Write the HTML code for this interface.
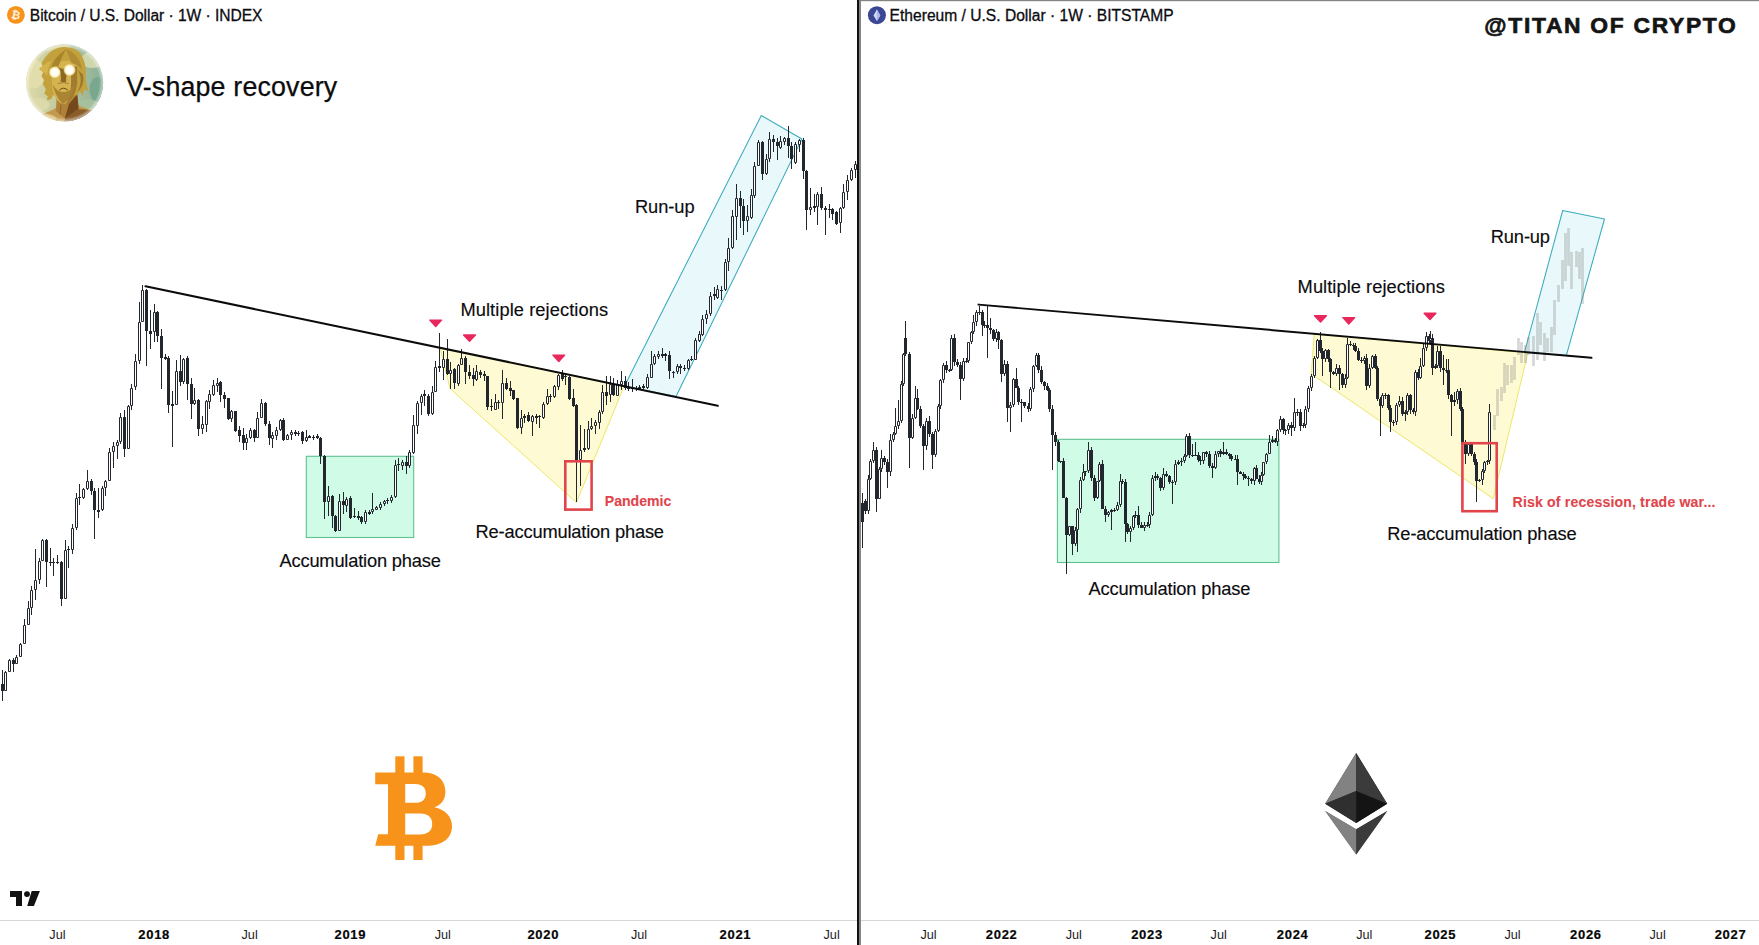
<!DOCTYPE html>
<html lang="en"><head><meta charset="utf-8"><title>V-shape recovery - BTC vs ETH</title>
<style>
html,body{margin:0;padding:0;background:#fff;}
body{width:1759px;height:945px;overflow:hidden;position:relative;font-family:"Liberation Sans",sans-serif;}
svg{position:absolute;left:0;top:0;display:block}
text{font-family:"Liberation Sans",sans-serif;fill:#0c0c0e;stroke:#0c0c0e;stroke-width:0.25px}
.lbl{font-size:18.3px;stroke-width:0.15px}
.red{fill:#e0454c;stroke:#e0454c;font-weight:bold;font-size:14.1px;stroke-width:0.1px}
.ax{font-size:12.6px;fill:#1c1c1f;stroke:none;text-anchor:middle}
.axb{font-size:13px;font-weight:bold;fill:#050505;stroke:#050505;stroke-width:0.2px;text-anchor:middle}
.hd{font-size:15.6px;fill:#0c0c10;stroke:#0c0c10;stroke-width:0.3px}
</style></head><body>
<svg width="1759" height="945" viewBox="0 0 1759 945">
<rect x="0" y="0" width="1759" height="945" fill="#ffffff"/>
<g id="left-shapes">
<rect x="306.3" y="456.3" width="107.4" height="81.2" fill="#d0fce7" stroke="#60c090" stroke-width="1.1"/>
<polygon points="440,347.6 450,388.5 576.4,502.5 624.2,386" fill="#fefad4" stroke="#ebe76a" stroke-width="1.0" stroke-linejoin="round"/>
<polygon points="624.4,386.3 761.3,115.5 801.9,139 676,396.6" fill="#e9f8fa" stroke="#3cabbd" stroke-width="1.05" stroke-linejoin="round"/>
</g>
<g id="right-shapes">
<rect x="1057.4" y="439.3" width="221.5" height="123.2" fill="#d0fce7" stroke="#60c090" stroke-width="1.1"/>
<polygon points="1314.3,334 1311.3,373.8 1493.2,498.7 1527.8,353" fill="#fefad4" stroke="#ebe76a" stroke-width="1.0" stroke-linejoin="round"/>
<polygon points="1524.5,352.2 1562.7,210.5 1604.5,219 1566.3,355.6" fill="#e9f8fa" stroke="#3cabbd" stroke-width="1.05" stroke-linejoin="round"/>
</g>
<g id="btc-candles" clip-path="url(#clipL)">
<clipPath id="clipL"><rect x="0" y="0" width="857" height="920"/></clipPath>
<path d="M2.5 670V701M5.5 671V691M9.5 659V672M13.5 658V672M16.5 655V664M20.5 643V657M24.5 619V644M28.5 601V625M31.5 586V615M35.5 549V600M39.5 558V584M42.5 539V561M46.5 539V587M50.5 548V566M53.5 558V576M57.5 555V564M61.5 561V606M65.5 540V599M68.5 546V568M72.5 524V554M76.5 493V530M79.5 484V505M83.5 488V499M87.5 470V490M91.5 479V495M94.5 488V539M98.5 488V518M102.5 486V511M105.5 480V496M109.5 448V481M113.5 442V468M117.5 440V459M120.5 413V444M124.5 410V457M128.5 405V449M131.5 384V410M135.5 354V390M139.5 302V364M142.5 285V322M146.5 289V366M150.5 310V349M154.5 304V342M157.5 311V342M161.5 329V389M165.5 354V360M168.5 356V413M172.5 391V447M176.5 360V405M180.5 355V386M183.5 358V384M187.5 356V400M191.5 378V419M194.5 388V405M198.5 399V436M202.5 416V434M206.5 400V432M209.5 390V409M213.5 380V396M217.5 378V392M220.5 381V402M224.5 392V408M228.5 398V420M231.5 410V422M235.5 411V432M239.5 426V442M243.5 428V450M246.5 434V450M250.5 428V439M254.5 429V442M257.5 412V438M261.5 399V418M265.5 402V426M269.5 421V445M272.5 432V448M276.5 427V440M280.5 419V431M283.5 418V441M287.5 434V440M291.5 430V440M295.5 430V436M298.5 431V436M302.5 431V444M306.5 430V442M309.5 435V438M313.5 435V440M317.5 434V439M320.5 437V464M324.5 455V519M328.5 486V516M332.5 495V528M335.5 515V532M339.5 494V531M343.5 492V514M346.5 497V512M350.5 496V519M354.5 508V518M358.5 511V520M361.5 516V524M365.5 510V524M369.5 510V515M372.5 493V514M376.5 506V510M380.5 502V510M384.5 500V506M387.5 498V504M391.5 495V503M395.5 460V498M398.5 458V471M402.5 460V470M406.5 456V474M409.5 450V468M413.5 415V454M417.5 401V434M421.5 394V415M424.5 390V406M428.5 394V416M432.5 386V415M435.5 361V392M439.5 333V372M443.5 351V380M447.5 339V375M450.5 362V389M454.5 368V389M458.5 364V386M461.5 349V365M465.5 356V384M469.5 365V379M473.5 368V386M476.5 365V381M480.5 370V378M484.5 371V381M487.5 376V410M491.5 399V411M495.5 394V410M498.5 400V409M502.5 370V419M506.5 378V390M510.5 381V396M513.5 390V400M517.5 398V429M521.5 410V434M524.5 414V423M528.5 412V422M532.5 415V436M536.5 414V424M539.5 415V428M543.5 402V419M547.5 389V405M550.5 394V402M554.5 385V398M558.5 374V390M562.5 370V381M565.5 374V385M569.5 376V400M573.5 389V407M576.5 404V502M580.5 425V486M584.5 429V452M588.5 421V450M591.5 418V430M595.5 420V434M599.5 410V429M602.5 385V414M606.5 376V405M610.5 376V402M613.5 378V396M617.5 380V396M621.5 371V390M625.5 376V390M628.5 382V391M632.5 379V392M636.5 386V391M639.5 385V390M643.5 384V389M647.5 374V389M651.5 351V378M654.5 354V365M658.5 351V359M662.5 348V358M665.5 353V361M669.5 351V379M673.5 371V378M677.5 364V374M680.5 364V374M684.5 365V371M688.5 359V370M691.5 356V361M695.5 338V360M699.5 331V342M702.5 315V336M706.5 310V324M710.5 292V316M714.5 287V300M717.5 285V299M721.5 286V300M725.5 259V291M728.5 238V271M732.5 210V249M736.5 184V240M740.5 191V228M743.5 199V235M747.5 205V232M751.5 189V219M754.5 162V198M758.5 140V166M762.5 141V180M766.5 154V175M769.5 132V162M773.5 135V152M777.5 138V160M780.5 136V149M784.5 137V145M788.5 126V158M791.5 142V169M795.5 142V164M799.5 139V152M803.5 138V179M806.5 170V230M810.5 188V215M814.5 194V212M817.5 192V225M821.5 187V210M825.5 206V235M829.5 204V218M832.5 208V220M836.5 211V225M840.5 207V233M843.5 184V209M847.5 175V200M851.5 168V181M855.5 161V178" stroke="#22262d" stroke-width="1" fill="none"/>
<path d="M1 684H4V691H1ZM12 660H15V664H12ZM45 540H48V562H45ZM49 562H52V563H49ZM52 562H55V563H52ZM56 562H59V563H56ZM60 562H63V599H60ZM67 549H70V550H67ZM78 497H81V498H78ZM90 481H93V491H90ZM93 491H96V510H93ZM97 510H100V512H97ZM123 417H126V449H123ZM145 290H148V331H145ZM149 331H152V334H149ZM156 312H159V336H156ZM160 336H163V358H160ZM164 357H167V359H164ZM167 358H170V405H167ZM171 404H174V406H171ZM179 371H182V382H179ZM186 358H189V384H186ZM190 384H193V404H190ZM197 400H200V429H197ZM219 382H222V395H219ZM223 395H226V399H223ZM227 398H230V419H227ZM234 411H237V431H234ZM238 430H241V436H238ZM242 435H245V443H242ZM253 430H256V438H253ZM264 403H267V424H264ZM268 424H271V438H268ZM282 420H285V440H282ZM294 432H297V434H294ZM297 433H300V434H297ZM301 432H304V441H301ZM308 436H311V438H308ZM312 437H315V438H312ZM316 436H319V438H316ZM319 438H322V456H319ZM323 456H326V502H323ZM331 496H334V516H331ZM334 516H337V531H334ZM342 501H345V505H342ZM349 498H352V518H349ZM353 516H356V517H353ZM357 516H360V518H357ZM360 517H363V522H360ZM368 512H371V514H368ZM386 500H389V501H386ZM397 464H400V465H397ZM405 462H408V466H405ZM423 394H426V396H423ZM427 396H430V414H427ZM438 366H441V368H438ZM446 359H449V374H446ZM453 369H456V383H453ZM464 358H467V372H464ZM468 372H471V376H468ZM472 375H475V379H472ZM479 372H482V375H479ZM483 374H486V376H483ZM486 376H489V407H486ZM490 406H493V407H490ZM497 402H500V403H497ZM505 383H508V389H505ZM509 388H512V391H509ZM512 390H515V399H512ZM516 398H519V428H516ZM523 416H526V418H523ZM527 415H530V421H527ZM535 416H538V418H535ZM538 416H541V417H538ZM549 396H552V397H549ZM561 374H564V379H561ZM564 376H567V377H564ZM568 377H571V399H568ZM572 398H575V406H572ZM575 405H578V461H575ZM583 448H586V450H583ZM605 392H608V396H605ZM612 384H615V395H612ZM624 381H627V388H624ZM627 388H630V389H627ZM631 388H634V389H631ZM635 388H638V389H635ZM638 387H641V389H638ZM642 386H645V388H642ZM661 354H664V356H661ZM664 354H667V356H664ZM668 355H671V371H668ZM672 372H675V373H672ZM679 366H682V368H679ZM683 368H686V369H683ZM690 359H693V360H690ZM713 294H716V296H713ZM720 290H723V291H720ZM739 198H742V206H739ZM742 206H745V221H742ZM761 142H764V174H761ZM772 139H775V142H772ZM776 142H779V146H776ZM787 138H790V146H787ZM790 146H793V159H790ZM802 140H805V171H802ZM805 171H808V210H805ZM813 206H816V208H813ZM820 194H823V208H820ZM824 208H827V210H824ZM828 209H831V210H828ZM831 209H834V214H831ZM835 212H838V224H835Z" fill="#22262d" stroke="none"/>
<path d="M4.5 672.5H6.5V690.5H4.5ZM8.5 660.5H10.5V671.5H8.5ZM15.5 657.5H17.5V663.5H15.5ZM19.5 644.5H21.5V656.5H19.5ZM23.5 625.5H25.5V643.5H23.5ZM27.5 608.5H29.5V624.5H27.5ZM30.5 590.5H32.5V607.5H30.5ZM34.5 580.5H36.5V589.5H34.5ZM38.5 561.5H40.5V579.5H38.5ZM41.5 540.5H43.5V560.5H41.5ZM64.5 550.5H66.5V598.5H64.5ZM71.5 528.5H73.5V549.5H71.5ZM75.5 498.5H77.5V527.5H75.5ZM82.5 489.5H84.5V497.5H82.5ZM86.5 481.5H88.5V488.5H86.5ZM101.5 488.5H103.5V509.5H101.5ZM104.5 481.5H106.5V487.5H104.5ZM108.5 452.5H110.5V480.5H108.5ZM112.5 446.5H114.5V451.5H112.5ZM116.5 442.5H118.5V445.5H116.5ZM119.5 417.5H121.5V441.5H119.5ZM127.5 406.5H129.5V448.5H127.5ZM130.5 388.5H132.5V405.5H130.5ZM134.5 361.5H136.5V386.5H134.5ZM138.5 322.5H140.5V360.5H138.5ZM141.5 290.5H143.5V321.5H141.5ZM153.5 312.5H155.5V331.5H153.5ZM175.5 371.5H177.5V404.5H175.5ZM182.5 359.5H184.5V381.5H182.5ZM193.5 400.5H195.5V403.5H193.5ZM201.5 424.5H203.5V428.5H201.5ZM205.5 401.5H207.5V424.5H205.5ZM208.5 394.5H210.5V401.5H208.5ZM212.5 385.5H214.5V394.5H212.5ZM216.5 383.5H218.5V385.5H216.5ZM230.5 411.5H232.5V418.5H230.5ZM245.5 438.5H247.5V442.5H245.5ZM249.5 430.5H251.5V437.5H249.5ZM256.5 418.5H258.5V437.5H256.5ZM260.5 403.5H262.5V417.5H260.5ZM271.5 435.5H273.5V438.5H271.5ZM275.5 430.5H277.5V435.5H275.5ZM279.5 420.5H281.5V429.5H279.5ZM286.5 435.5H288.5V439.5H286.5ZM290.5 432.5H292.5V434.5H290.5ZM305.5 437.5H307.5V440.5H305.5ZM327.5 496.5H329.5V501.5H327.5ZM338.5 501.5H340.5V530.5H338.5ZM345.5 499.5H347.5V505.5H345.5ZM364.5 512.5H366.5V521.5H364.5ZM371.5 509.5H373.5V511.5H371.5ZM375.5 507.5H377.5V509.5H375.5ZM379.5 504.5H381.5V507.5H379.5ZM383.5 501.5H385.5V503.5H383.5ZM390.5 497.5H392.5V500.5H390.5ZM394.5 465.5H396.5V496.5H394.5ZM401.5 462.5H403.5V465.5H401.5ZM408.5 452.5H410.5V465.5H408.5ZM412.5 425.5H414.5V452.5H412.5ZM416.5 403.5H418.5V425.5H416.5ZM420.5 396.5H422.5V402.5H420.5ZM431.5 392.5H433.5V413.5H431.5ZM434.5 367.5H436.5V391.5H434.5ZM442.5 359.5H444.5V367.5H442.5ZM449.5 370.5H451.5V373.5H449.5ZM457.5 365.5H459.5V383.5H457.5ZM460.5 358.5H462.5V364.5H460.5ZM475.5 371.5H477.5V379.5H475.5ZM494.5 402.5H496.5V409.5H494.5ZM501.5 383.5H503.5V402.5H501.5ZM520.5 418.5H522.5V427.5H520.5ZM531.5 416.5H533.5V421.5H531.5ZM542.5 404.5H544.5V417.5H542.5ZM546.5 396.5H548.5V403.5H546.5ZM553.5 386.5H555.5V396.5H553.5ZM557.5 375.5H559.5V386.5H557.5ZM579.5 450.5H581.5V459.5H579.5ZM587.5 429.5H589.5V448.5H587.5ZM590.5 426.5H592.5V428.5H590.5ZM594.5 422.5H596.5V425.5H594.5ZM598.5 412.5H600.5V422.5H598.5ZM601.5 392.5H603.5V411.5H601.5ZM609.5 384.5H611.5V394.5H609.5ZM616.5 384.5H618.5V395.5H616.5ZM620.5 381.5H622.5V384.5H620.5ZM646.5 377.5H648.5V387.5H646.5ZM650.5 364.5H652.5V377.5H650.5ZM653.5 356.5H655.5V363.5H653.5ZM657.5 354.5H659.5V356.5H657.5ZM676.5 366.5H678.5V371.5H676.5ZM687.5 360.5H689.5V368.5H687.5ZM694.5 340.5H696.5V359.5H694.5ZM698.5 334.5H700.5V340.5H698.5ZM701.5 319.5H703.5V334.5H701.5ZM705.5 314.5H707.5V318.5H705.5ZM709.5 296.5H711.5V313.5H709.5ZM716.5 289.5H718.5V297.5H716.5ZM724.5 262.5H726.5V289.5H724.5ZM727.5 248.5H729.5V261.5H727.5ZM731.5 216.5H733.5V247.5H731.5ZM735.5 198.5H737.5V216.5H735.5ZM746.5 216.5H748.5V220.5H746.5ZM750.5 195.5H752.5V217.5H750.5ZM753.5 166.5H755.5V195.5H753.5ZM757.5 142.5H759.5V165.5H757.5ZM765.5 159.5H767.5V173.5H765.5ZM768.5 139.5H770.5V158.5H768.5ZM779.5 141.5H781.5V147.5H779.5ZM783.5 138.5H785.5V141.5H783.5ZM794.5 144.5H796.5V162.5H794.5ZM798.5 140.5H800.5V144.5H798.5ZM809.5 207.5H811.5V209.5H809.5ZM816.5 194.5H818.5V206.5H816.5ZM839.5 208.5H841.5V222.5H839.5ZM842.5 192.5H844.5V207.5H842.5ZM846.5 180.5H848.5V191.5H846.5ZM850.5 170.5H852.5V179.5H850.5ZM854.5 164.5H856.5V169.5H854.5Z" fill="#ffffff" stroke="#22262d" stroke-width="1"/>
</g>
<g id="eth-candles">
<path d="M862.5 493V548M865.5 499V514M868.5 475V514M870.5 459V480M873.5 442V463M876.5 447V512M879.5 467V499M881.5 450V472M884.5 456V465M887.5 459V488M890.5 434V476M893.5 432V442M895.5 408V435M898.5 400V429M901.5 381V423M903.5 353V386M905.5 321V356M909.5 352V468M912.5 414V439M915.5 386V419M917.5 389V410M920.5 406V428M923.5 424V470M926.5 418V450M929.5 416V437M932.5 432V469M935.5 429V457M938.5 404V432M940.5 379V409M943.5 363V383M946.5 361V373M949.5 369V372M951.5 335V371M954.5 334V366M957.5 359V367M960.5 362V400M963.5 358V381M966.5 358V363M968.5 342V363M971.5 331V344M973.5 315V334M976.5 310V326M979.5 306V315M982.5 310V336M984.5 321V328M987.5 306V358M990.5 318V334M993.5 329V341M996.5 329V342M998.5 331V349M1001.5 339V382M1004.5 360V376M1007.5 361V422M1010.5 402V432M1013.5 378V407M1016.5 368V388M1018.5 386V405M1021.5 399V422M1024.5 402V408M1028.5 403V412M1030.5 387V411M1033.5 365V392M1036.5 353V367M1038.5 353V373M1041.5 366V384M1044.5 381V390M1047.5 383V391M1049.5 388V412M1052.5 405V470M1055.5 432V446M1058.5 440V462M1060.5 461V463M1063.5 458V498M1066.5 497V574M1069.5 526V536M1072.5 526V555M1075.5 527V546M1077.5 508V552M1080.5 477V513M1083.5 464V481M1085.5 471V476M1088.5 442V473M1091.5 447V481M1094.5 475V501M1097.5 481V499M1099.5 462V482M1102.5 460V509M1105.5 506V522M1108.5 511V517M1111.5 509V530M1114.5 508V512M1117.5 502V511M1120.5 474V507M1122.5 479V484M1125.5 479V542M1127.5 523V534M1130.5 526V542M1133.5 515V530M1135.5 511V518M1138.5 506V528M1141.5 522V528M1144.5 522V531M1147.5 522V527M1149.5 512V528M1152.5 475V516M1155.5 472V481M1157.5 474V480M1160.5 477V491M1163.5 468V490M1166.5 471V477M1169.5 475V484M1172.5 480V504M1175.5 460V485M1178.5 460V465M1181.5 458V466M1184.5 454V463M1186.5 434V457M1189.5 433V458M1192.5 444V457M1195.5 442V456M1198.5 452V462M1200.5 456V465M1203.5 452V464M1206.5 451V457M1209.5 451V468M1212.5 463V478M1215.5 451V469M1218.5 451V457M1220.5 449V457M1223.5 442V455M1226.5 449V455M1229.5 453V459M1231.5 454V461M1235.5 455V460M1237.5 455V485M1240.5 471V474M1243.5 472V480M1245.5 474V479M1248.5 476V486M1251.5 478V484M1254.5 467V485M1256.5 465V479M1259.5 475V484M1261.5 472V485M1263.5 462V476M1266.5 453V464M1269.5 435V454M1272.5 436V443M1275.5 438V443M1277.5 429V446M1280.5 416V432M1283.5 418V434M1285.5 429V435M1288.5 423V434M1291.5 422V436M1294.5 398V431M1297.5 409V416M1300.5 409V431M1303.5 423V428M1305.5 406V428M1308.5 386V412M1311.5 374V391M1314.5 356V378M1317.5 339V359M1320.5 332V353M1322.5 348V376M1325.5 349V362M1328.5 349V362M1330.5 358V388M1333.5 371V375M1336.5 364V376M1339.5 365V390M1342.5 373V388M1345.5 374V388M1347.5 338V379M1350.5 341V346M1353.5 343V350M1355.5 343V352M1358.5 348V361M1361.5 357V363M1364.5 356V364M1366.5 354V390M1369.5 364V388M1372.5 355V369M1375.5 354V369M1377.5 366V401M1380.5 397V436M1382.5 393V408M1385.5 393V399M1388.5 394V410M1390.5 405V432M1393.5 420V426M1396.5 403V425M1399.5 396V407M1402.5 397V416M1405.5 410V421M1407.5 393V415M1410.5 394V414M1413.5 408V414M1415.5 370V416M1418.5 369V380M1420.5 358V379M1423.5 344V367M1426.5 332V351M1429.5 334V343M1430.5 331V345M1432.5 334V375M1435.5 364V369M1437.5 346V368M1440.5 346V372M1443.5 355V385M1446.5 359V373M1448.5 359V399M1451.5 394V436M1454.5 392V406M1457.5 389V404M1460.5 388V411M1462.5 407V447M1465.5 440V464M1468.5 442V456M1471.5 442V456M1474.5 452V465M1476.5 459V502M1479.5 479V482M1482.5 469V485M1484.5 461V473M1487.5 460V465M1489.5 404V464" stroke="#22262d" stroke-width="1" fill="none"/>
<path d="M861 503H864V522H861ZM864 501H867V511H864ZM875 450H878V499H875ZM883 458H886V462H883ZM886 462H889V472H886ZM904 338H907V354H904ZM908 354H911V438H908ZM916 398H919V409H916ZM919 409H922V426H919ZM922 426H925V446H922ZM928 421H931V434H928ZM931 434H934V455H931ZM945 365H948V370H945ZM948 370H951V371H948ZM953 338H956V362H953ZM956 362H959V365H956ZM959 365H962V379H959ZM965 361H968V362H965ZM978 312H981V313H978ZM981 312H984V325H981ZM983 325H986V326H983ZM986 325H989V328H986ZM989 328H992V330H989ZM992 330H995V339H992ZM997 332H1000V340H997ZM1000 340H1003V374H1000ZM1006 364H1009V408H1006ZM1015 379H1018V388H1015ZM1017 388H1020V402H1017ZM1020 402H1023V403H1020ZM1023 402H1026V406H1023ZM1027 406H1030V409H1027ZM1037 355H1040V370H1037ZM1040 370H1043V382H1040ZM1043 382H1046V386H1043ZM1046 386H1049V390H1046ZM1048 390H1051V409H1048ZM1051 409H1054V435H1051ZM1054 435H1057V442H1054ZM1057 442H1060V461H1057ZM1059 461H1062V462H1059ZM1062 461H1065V498H1062ZM1065 498H1068V535H1065ZM1071 526H1074V544H1071ZM1084 471H1087V472H1084ZM1090 450H1093V478H1090ZM1093 478H1096V498H1093ZM1101 464H1104V509H1101ZM1104 509H1107V515H1104ZM1110 510H1113V512H1110ZM1113 510H1116V511H1113ZM1121 481H1124V482H1121ZM1124 482H1127V524H1124ZM1126 524H1129V532H1126ZM1134 515H1137V516H1134ZM1137 515H1140V525H1137ZM1140 525H1143V528H1140ZM1146 525H1149V526H1146ZM1154 476H1157V478H1154ZM1156 476H1159V478H1156ZM1159 478H1162V488H1159ZM1165 474H1168V476H1165ZM1168 476H1171V482H1168ZM1171 482H1174V483H1171ZM1177 462H1180V464H1177ZM1180 461H1183V462H1180ZM1188 436H1191V455H1188ZM1191 455H1194V456H1191ZM1194 455H1197V456H1194ZM1197 455H1200V460H1197ZM1199 460H1202V461H1199ZM1205 452H1208V454H1205ZM1208 454H1211V466H1208ZM1211 466H1214V468H1211ZM1219 451H1222V454H1219ZM1222 452H1225V454H1222ZM1225 452H1228V454H1225ZM1228 454H1231V456H1228ZM1230 456H1233V459H1230ZM1234 459H1237V460H1234ZM1236 459H1239V472H1236ZM1239 472H1242V474H1239ZM1242 474H1245V476H1242ZM1244 476H1247V478H1244ZM1247 478H1250V479H1247ZM1250 479H1253V481H1250ZM1255 468H1258V479H1255ZM1258 479H1261V482H1258ZM1271 440H1274V442H1271ZM1274 440H1277V442H1274ZM1282 419H1285V430H1282ZM1284 430H1287V431H1284ZM1290 425H1293V428H1290ZM1296 412H1299V413H1296ZM1299 412H1302V426H1299ZM1302 425H1305V426H1302ZM1319 340H1322V351H1319ZM1321 351H1324V359H1321ZM1327 350H1330V359H1327ZM1329 359H1332V372H1329ZM1332 372H1335V374H1332ZM1338 368H1341V374H1338ZM1341 374H1344V385H1341ZM1349 344H1352V345H1349ZM1352 345H1355V346H1352ZM1354 346H1357V351H1354ZM1357 351H1360V360H1357ZM1360 360H1363V361H1360ZM1365 358H1368V386H1365ZM1374 356H1377V368H1374ZM1376 368H1379V399H1376ZM1379 399H1382V406H1379ZM1384 395H1387V396H1384ZM1387 395H1390V408H1387ZM1389 408H1392V422H1389ZM1392 422H1395V423H1392ZM1401 401H1404V414H1401ZM1404 412H1407V414H1404ZM1409 395H1412V410H1409ZM1412 410H1415V412H1412ZM1417 372H1420V378H1417ZM1428 336H1431V341H1428ZM1431 338H1434V368H1431ZM1434 366H1437V368H1434ZM1439 351H1442V368H1439ZM1442 368H1445V370H1442ZM1445 370H1448V371H1445ZM1447 370H1450V395H1447ZM1450 395H1453V402H1450ZM1453 400H1456V402H1453ZM1459 391H1462V409H1459ZM1461 409H1464V444H1461ZM1464 444H1467V454H1464ZM1470 444H1473V454H1470ZM1473 454H1476V462H1473ZM1475 462H1478V481H1475ZM1478 480H1481V481H1478ZM1486 461H1489V462H1486Z" fill="#22262d" stroke="none"/>
<path d="M867.5 479.5H869.5V510.5H867.5ZM869.5 461.5H871.5V478.5H869.5ZM872.5 450.5H874.5V460.5H872.5ZM878.5 469.5H880.5V498.5H878.5ZM880.5 458.5H882.5V468.5H880.5ZM889.5 440.5H891.5V471.5H889.5ZM892.5 434.5H894.5V439.5H892.5ZM894.5 426.5H896.5V433.5H894.5ZM897.5 421.5H899.5V425.5H897.5ZM900.5 384.5H902.5V420.5H900.5ZM902.5 354.5H904.5V383.5H902.5ZM911.5 418.5H913.5V437.5H911.5ZM914.5 398.5H916.5V417.5H914.5ZM925.5 421.5H927.5V445.5H925.5ZM934.5 431.5H936.5V454.5H934.5ZM937.5 406.5H939.5V430.5H937.5ZM939.5 380.5H941.5V405.5H939.5ZM942.5 365.5H944.5V379.5H942.5ZM950.5 338.5H952.5V369.5H950.5ZM962.5 361.5H964.5V378.5H962.5ZM967.5 342.5H969.5V360.5H967.5ZM970.5 332.5H972.5V341.5H970.5ZM972.5 322.5H974.5V331.5H972.5ZM975.5 312.5H977.5V321.5H975.5ZM995.5 332.5H997.5V338.5H995.5ZM1003.5 364.5H1005.5V373.5H1003.5ZM1009.5 405.5H1011.5V407.5H1009.5ZM1012.5 379.5H1014.5V404.5H1012.5ZM1029.5 389.5H1031.5V408.5H1029.5ZM1032.5 366.5H1034.5V388.5H1032.5ZM1035.5 355.5H1037.5V365.5H1035.5ZM1068.5 526.5H1070.5V534.5H1068.5ZM1074.5 530.5H1076.5V543.5H1074.5ZM1076.5 509.5H1078.5V529.5H1076.5ZM1079.5 480.5H1081.5V508.5H1079.5ZM1082.5 472.5H1084.5V479.5H1082.5ZM1087.5 450.5H1089.5V470.5H1087.5ZM1096.5 481.5H1098.5V497.5H1096.5ZM1098.5 464.5H1100.5V480.5H1098.5ZM1107.5 512.5H1109.5V514.5H1107.5ZM1116.5 505.5H1118.5V509.5H1116.5ZM1119.5 481.5H1121.5V504.5H1119.5ZM1129.5 528.5H1131.5V531.5H1129.5ZM1132.5 516.5H1134.5V527.5H1132.5ZM1143.5 525.5H1145.5V527.5H1143.5ZM1148.5 515.5H1150.5V524.5H1148.5ZM1151.5 478.5H1153.5V514.5H1151.5ZM1162.5 474.5H1164.5V487.5H1162.5ZM1174.5 464.5H1176.5V481.5H1174.5ZM1183.5 456.5H1185.5V460.5H1183.5ZM1185.5 436.5H1187.5V455.5H1185.5ZM1202.5 452.5H1204.5V460.5H1202.5ZM1214.5 454.5H1216.5V467.5H1214.5ZM1217.5 451.5H1219.5V453.5H1217.5ZM1253.5 468.5H1255.5V480.5H1253.5ZM1260.5 475.5H1262.5V481.5H1260.5ZM1262.5 462.5H1264.5V474.5H1262.5ZM1265.5 454.5H1267.5V461.5H1265.5ZM1268.5 442.5H1270.5V453.5H1268.5ZM1276.5 430.5H1278.5V441.5H1276.5ZM1279.5 419.5H1281.5V429.5H1279.5ZM1287.5 425.5H1289.5V429.5H1287.5ZM1293.5 412.5H1295.5V427.5H1293.5ZM1304.5 409.5H1306.5V424.5H1304.5ZM1307.5 388.5H1309.5V408.5H1307.5ZM1310.5 376.5H1312.5V387.5H1310.5ZM1313.5 358.5H1315.5V375.5H1313.5ZM1316.5 340.5H1318.5V357.5H1316.5ZM1324.5 350.5H1326.5V358.5H1324.5ZM1335.5 368.5H1337.5V373.5H1335.5ZM1344.5 378.5H1346.5V384.5H1344.5ZM1346.5 344.5H1348.5V377.5H1346.5ZM1363.5 358.5H1365.5V360.5H1363.5ZM1368.5 368.5H1370.5V385.5H1368.5ZM1371.5 356.5H1373.5V367.5H1371.5ZM1381.5 395.5H1383.5V405.5H1381.5ZM1395.5 405.5H1397.5V421.5H1395.5ZM1398.5 401.5H1400.5V404.5H1398.5ZM1406.5 395.5H1408.5V411.5H1406.5ZM1414.5 372.5H1416.5V411.5H1414.5ZM1419.5 366.5H1421.5V377.5H1419.5ZM1422.5 348.5H1424.5V365.5H1422.5ZM1425.5 336.5H1427.5V347.5H1425.5ZM1429.5 338.5H1431.5V340.5H1429.5ZM1436.5 351.5H1438.5V365.5H1436.5ZM1456.5 391.5H1458.5V399.5H1456.5ZM1467.5 444.5H1469.5V453.5H1467.5ZM1481.5 471.5H1483.5V479.5H1481.5ZM1483.5 462.5H1485.5V470.5H1483.5ZM1488.5 412.5H1490.5V460.5H1488.5Z" fill="#ffffff" stroke="#22262d" stroke-width="1"/>
<path d="M1494.5 415V430M1497.5 389V416M1501.5 387V401M1504.5 363V393M1507.5 365V385M1511.5 365V383M1514.5 357V380M1518.5 338V355M1521.5 342V363M1525.5 345V363M1528.5 337V355M1533.5 336V366M1537.5 313V360M1540.5 322V345M1544.5 333V361M1547.5 338V352M1551.5 327V352M1554.5 300V335M1558.5 285V302M1562.5 260V289M1565.5 233V281M1568.5 228V266M1571.5 252V289M1576.5 251V267M1579.5 252V279M1582.5 248V304" stroke="#808080" stroke-opacity="0.31" stroke-width="2.8" fill="none"/>
</g>
<line x1="145.5" y1="286.3" x2="717.8" y2="405.8" stroke="#0b0b0b" stroke-width="2.1" stroke-linecap="round"/>
<line x1="978.5" y1="304.6" x2="1591.5" y2="357.8" stroke="#0b0b0b" stroke-width="1.95" stroke-linecap="round"/>
<rect x="565.3" y="461.3" width="26.3" height="48.3" fill="none" stroke="#e2444b" stroke-width="2.6"/>
<rect x="1462.4" y="443.2" width="34.3" height="68" fill="none" stroke="#e2444b" stroke-width="2.6"/>
<path d="M429.8 320.1H441.6L435.7 326.4Z" fill="#e8285c" stroke="#e8285c" stroke-width="1.4" stroke-linejoin="round"/>
<path d="M463.6 335H475.4L469.5 341.3Z" fill="#e8285c" stroke="#e8285c" stroke-width="1.4" stroke-linejoin="round"/>
<path d="M552.9 355.1H564.7L558.8 361.4Z" fill="#e8285c" stroke="#e8285c" stroke-width="1.4" stroke-linejoin="round"/>
<path d="M1314.6 315.8H1326.4L1320.5 322.1Z" fill="#e8285c" stroke="#e8285c" stroke-width="1.4" stroke-linejoin="round"/>
<path d="M1342.9 317.6H1354.7L1348.8 323.9Z" fill="#e8285c" stroke="#e8285c" stroke-width="1.4" stroke-linejoin="round"/>
<path d="M1424.1 313.3H1435.9L1430 319.6Z" fill="#e8285c" stroke="#e8285c" stroke-width="1.4" stroke-linejoin="round"/>
<rect x="857" y="0" width="2" height="945" fill="#111111"/>
<rect x="859" y="0" width="2" height="945" fill="#858585"/>
<rect x="859" y="0" width="900" height="1.2" fill="#858585"/>
<rect x="0" y="920" width="857" height="1" fill="#d6d6d6"/>
<rect x="861" y="920" width="898" height="1" fill="#d6d6d6"/>
<text class="ax" x="57.4" y="939" textLength="16.2" lengthAdjust="spacingAndGlyphs">Jul</text>
<text class="ax" x="249.6" y="939" textLength="16.2" lengthAdjust="spacingAndGlyphs">Jul</text>
<text class="ax" x="442.8" y="939" textLength="16.2" lengthAdjust="spacingAndGlyphs">Jul</text>
<text class="ax" x="639" y="939" textLength="16.2" lengthAdjust="spacingAndGlyphs">Jul</text>
<text class="ax" x="831.6" y="939" textLength="16.2" lengthAdjust="spacingAndGlyphs">Jul</text>
<text class="ax" x="928.5" y="939" textLength="16.2" lengthAdjust="spacingAndGlyphs">Jul</text>
<text class="ax" x="1073.8" y="939" textLength="16.2" lengthAdjust="spacingAndGlyphs">Jul</text>
<text class="ax" x="1218.7" y="939" textLength="16.2" lengthAdjust="spacingAndGlyphs">Jul</text>
<text class="ax" x="1364.3" y="939" textLength="16.2" lengthAdjust="spacingAndGlyphs">Jul</text>
<text class="ax" x="1512.5" y="939" textLength="16.2" lengthAdjust="spacingAndGlyphs">Jul</text>
<text class="ax" x="1657.6" y="939" textLength="16.2" lengthAdjust="spacingAndGlyphs">Jul</text>
<text class="axb" x="153.8" y="939" textLength="31" lengthAdjust="spacing">2018</text>
<text class="axb" x="350" y="939" textLength="31" lengthAdjust="spacing">2019</text>
<text class="axb" x="542.9" y="939" textLength="31" lengthAdjust="spacing">2020</text>
<text class="axb" x="735.1" y="939" textLength="31" lengthAdjust="spacing">2021</text>
<text class="axb" x="1001.3" y="939" textLength="31" lengthAdjust="spacing">2022</text>
<text class="axb" x="1146.7" y="939" textLength="31" lengthAdjust="spacing">2023</text>
<text class="axb" x="1292.3" y="939" textLength="31" lengthAdjust="spacing">2024</text>
<text class="axb" x="1440" y="939" textLength="31" lengthAdjust="spacing">2025</text>
<text class="axb" x="1585.6" y="939" textLength="31" lengthAdjust="spacing">2026</text>
<text class="axb" x="1730.2" y="939" textLength="31" lengthAdjust="spacing">2027</text>
<g id="tv-logo" fill="#111111"><path d="M10 891H22V906H16V896.9H10Z"/><circle cx="27" cy="894.1" r="2.95"/><path d="M31.7 891H39.9L33.9 906H27.2Z"/></g>
<g id="hdr-btc"><circle cx="15.9" cy="14.9" r="8.9" fill="#f7931a"/><text x="15.9" y="18.9" text-anchor="middle" style="font-size:11px;font-weight:bold;fill:#fff4e2;stroke:none" transform="rotate(12 15.9 14.9)">₿</text><text class="hd" x="29.8" y="20.8" textLength="232.7" lengthAdjust="spacing">Bitcoin / U.S. Dollar · 1W · INDEX</text></g>
<g id="hdr-eth"><circle cx="876.9" cy="15.2" r="9" fill="#3b4794"/><path d="M876.9 9.6L873.5 15.5L876.9 20.9L880.3 15.5Z" fill="#d3daf8"/><path d="M876.9 9.6L876.9 20.9L880.3 15.5Z" fill="#aab7ec"/><text class="hd" x="889.6" y="20.8" textLength="284" lengthAdjust="spacing">Ethereum / U.S. Dollar · 1W · BITSTAMP</text></g>
<text x="1484.3" y="33.1" textLength="251.5" lengthAdjust="spacing" style="font-size:22.8px;font-weight:bold;fill:#151515;stroke:#151515;stroke-width:0.7px;font-family:'Liberation Sans',sans-serif">@TITAN OF CRYPTO</text>
<g id="avatar"><defs><clipPath id="avc"><circle cx="468" cy="470" r="405"/></clipPath>
<linearGradient id="avbg" x1="0" y1="0" x2="1" y2="0"><stop offset="0" stop-color="#dedaa8"/><stop offset="0.4" stop-color="#c2cba0"/><stop offset="1" stop-color="#86ae97"/></linearGradient>
<radialGradient id="eye" cx="0.5" cy="0.5" r="0.5"><stop offset="0" stop-color="#ffffff"/><stop offset="0.6" stop-color="#fffdf0"/><stop offset="0.8" stop-color="#fdeeb0" stop-opacity="0.8"/><stop offset="1" stop-color="#f0d070" stop-opacity="0"/></radialGradient>
<radialGradient id="avedge" cx="0.5" cy="0.5" r="0.5"><stop offset="0.9" stop-color="#ffffff" stop-opacity="0"/><stop offset="1" stop-color="#ffffff" stop-opacity="0.55"/></radialGradient>
<filter id="avblur" x="-10%" y="-10%" width="120%" height="120%"><feGaussianBlur stdDeviation="5"/></filter></defs>
<g transform="translate(20 38) scale(0.095238)"><g clip-path="url(#avc)">
<rect x="50" y="50" width="850" height="850" fill="url(#avbg)"/>
<g filter="url(#avblur)">
<ellipse cx="760" cy="230" rx="120" ry="85" fill="#cdd6ac"/><ellipse cx="170" cy="700" rx="140" ry="75" fill="#dcd9ab"/><ellipse cx="150" cy="380" rx="110" ry="150" fill="#e2deac"/><ellipse cx="815" cy="540" rx="85" ry="130" fill="#7aa88f"/><ellipse cx="710" cy="700" rx="110" ry="60" fill="#a5c09d"/><ellipse cx="400" cy="110" rx="130" ry="50" fill="#d8d8a8"/>
<path d="M235 805C300 770 370 750 400 715L600 695C650 730 720 742 775 765L820 920L180 920Z" fill="#c29a50"/>
<path d="M500 770C600 735 700 745 775 765L820 920L450 920Z" fill="#8a5c2b"/>
<path d="M240 808C290 790 330 800 385 835L330 900L200 900Z" fill="#d9bb72"/>
<path d="M385 600L378 770L470 845L615 745L602 580Z" fill="#b08238"/>
<path d="M470 845L615 745L602 590L515 690Z" fill="#74491f"/>
<path d="M470 93C520 96 570 108 610 140C650 172 680 240 690 320C696 380 682 440 700 500L725 565L672 532L660 610L628 560L600 600L345 600L330 640L282 655L292 612L255 585L272 540L240 482L252 440L226 402L242 356L200 322L236 296L228 262C262 190 330 120 400 104C425 96 450 92 470 93Z" fill="#c3a13c"/>
<path d="M330 305C330 232 580 212 600 300L600 480C590 600 520 690 450 694C400 682 340 600 335 500Z" fill="#d5b450"/>
<path d="M525 300L600 300L600 480C590 580 540 660 480 692C545 600 545 450 525 300Z" fill="#a07a30"/>
<path d="M340 480C360 560 400 650 450 694C510 662 560 580 570 490C540 548 500 568 455 568C410 568 370 538 340 480Z" fill="#a98431"/>
<path d="M395 295C430 335 470 335 510 285C495 350 482 400 484 464L426 459C436 410 428 350 395 295Z" fill="#8c6826"/>
<path d="M328 325C338 240 400 180 482 116C440 200 420 262 400 302C380 290 350 302 328 325Z" fill="#a8852a"/>
<path d="M482 116C560 140 640 220 652 335C620 292 580 272 540 262C520 200 500 160 482 116Z" fill="#b08d36"/>
<path d="M205 335C240 280 290 250 335 240C300 300 290 340 285 400C270 370 240 345 205 335Z" fill="#d4b44c"/>
<path d="M600 330C650 390 650 480 605 560C640 540 680 470 660 380Z" fill="#9a7a2c"/>
</g>
<path d="M416 545Q455 506 499 545" stroke="#5e3f18" stroke-width="10" fill="none" stroke-linecap="round"/>
<path d="M400 478Q455 455 510 478" stroke="#7a5a22" stroke-width="7" fill="none" stroke-linecap="round" opacity="0.8"/>
<path d="M430 700L420 800M520 700L560 770" stroke="#6b4520" stroke-width="7" fill="none" opacity="0.7"/>
<circle cx="365" cy="360" r="66" fill="url(#eye)"/><circle cx="520" cy="336" r="68" fill="url(#eye)"/>
<circle cx="468" cy="470" r="405" fill="url(#avedge)"/>
</g></g></g>
<text x="126.2" y="95.5" textLength="211" lengthAdjust="spacing" style="font-size:26.8px">V-shape recovery</text>
<text class="lbl" x="460.4" y="315.8" textLength="147.7" lengthAdjust="spacing">Multiple rejections</text>
<text class="lbl" x="634.9" y="213.3" textLength="59.7" lengthAdjust="spacing">Run-up</text>
<text class="lbl" x="279.5" y="566.8" textLength="161.3" lengthAdjust="spacing">Accumulation phase</text>
<text class="lbl" x="475.6" y="538" textLength="188.4" lengthAdjust="spacing">Re-accumulation phase</text>
<text class="red" x="604.8" y="505.7" textLength="66.5" lengthAdjust="spacing">Pandemic</text>
<text class="lbl" x="1297.6" y="292.6" textLength="147.2" lengthAdjust="spacing">Multiple rejections</text>
<text class="lbl" x="1490.8" y="242.7" textLength="59.2" lengthAdjust="spacing">Run-up</text>
<text class="lbl" x="1088.5" y="595" textLength="162" lengthAdjust="spacing">Accumulation phase</text>
<text class="lbl" x="1387.3" y="539.6" textLength="189.3" lengthAdjust="spacing">Re-accumulation phase</text>
<text class="red" x="1512.6" y="506.8" textLength="202.9" lengthAdjust="spacing">Risk of recession, trade war...</text>
<g id="btc-logo" fill="#f7931a">
<rect x="395.3" y="756.3" width="9.2" height="17"/><rect x="413.4" y="756.3" width="9.2" height="17"/>
<rect x="395.3" y="843" width="9.2" height="17"/><rect x="413.4" y="843" width="9.2" height="17"/>
<path fill-rule="evenodd" d="M375.2 772.4H423C440 772.4 445.4 783 445.4 791.5C445.4 800 441 805 434.5 807.2C444.5 809.5 452 816 452 826C452 838 443 845.8 426 845.8H375.2L378.2 834.2H388V784.3H375.2ZM405.2 784V802.8H415.5C422 802.8 425.8 799.3 425.8 793.4C425.8 787.5 422 784 415.5 784ZM405.2 813.6V834.4H420C428 834.4 432.2 830.6 432.2 824C432.2 817.4 428 813.6 420 813.6Z"/>
</g>
<g id="eth-logo">
<polygon points="1356.2,753 1325.2,803.8 1356.2,822.9 1387.2,803.8" fill="#333333"/>
<polygon points="1325.2,811 1356.2,829.2 1387.2,811 1356.2,854.6" fill="#5a5a5a"/>
<polygon points="1356.2,753 1325.2,803.8 1356.2,791.1" fill="#828282"/>
<polygon points="1356.2,753 1387.2,803.8 1356.2,791.1" fill="#3b3b3b"/>
<polygon points="1325.2,803.8 1356.2,791.1 1356.2,822.9" fill="#2f2f2f"/>
<polygon points="1387.2,803.8 1356.2,791.1 1356.2,822.9" fill="#141414"/>
<polygon points="1325.2,811 1356.2,829.2 1356.2,854.6" fill="#828282"/>
<polygon points="1387.2,811 1356.2,829.2 1356.2,854.6" fill="#3b3b3b"/>
</g>
</svg>
</body></html>
